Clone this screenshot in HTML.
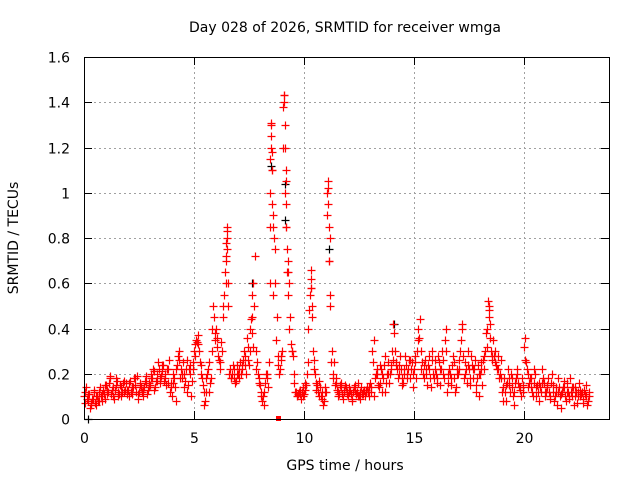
<!DOCTYPE html>
<html><head><meta charset="utf-8"><style>
body{margin:0;background:#fff;}
svg{display:block;font-family:"DejaVu Sans","Liberation Sans",sans-serif;}
</style></head><body>
<svg id="chart" width="640" height="480" xmlns="http://www.w3.org/2000/svg">
<text x="345" y="32" font-size="14" text-anchor="middle">Day 028 of 2026, SRMTID for receiver wmga</text>
<text x="18" y="238" font-size="14" text-anchor="middle" transform="rotate(-90 18 238)">SRMTID / TECUs</text>
<text x="345" y="470" font-size="14" text-anchor="middle">GPS time / hours</text>
<g id="grid"></g>
<g id="ticks"></g>
<g id="marks"></g>
<rect x="84.5" y="57.5" width="525" height="362" fill="none" stroke="#000" stroke-width="1"/>
</svg>
<script>
const yTicks=[0,0.2,0.4,0.6,0.8,1,1.2,1.4,1.6];
const yTickLabels=["0","0.2","0.4","0.6","0.8","1","1.2","1.4","1.6"];
const xTicks=[0,5,10,15,20];
const xTickLabels=["0","5","10","15","20"];
const seriesA=[.10,.14,.08,.06,.09,.07,.10,.12,.08,.11,
.15,.12,.18,.10,.13,.17,.11,.14,.12,.16,
.13,.17,.11,.15,.19,.12,.14,.10,.16,.13,
.15,.18,.21,.17,.22,.19,.24,.20,.16,.12,
.10,.18,.22,.30,.22,.25,.17,.12,.20,.17,
.30,.35,.33,.20,.15,.08,.20,.12,.30,.45,
.40,.28,.25,.45,.65,.83,.20,.18,.22,.17,
.20,.25,.22,.28,.36,.24,.44,.60,.30,.20,
.15,.08,.12,.18,.25,1.30,.90,.60,.28,.22,
.30,1.43,.85,.60,.33,.28,.12,.10,.11,.12,
.11,.15,.40,.66,.30,.20,.15,.10,.12,.08,
.12,1.05,.50,.20,.15,.13,.11,.16,.12,.14,
.10,.13,.09,.15,.12,.10,.14,.11,.13,.12,
.16,.30,.10,.20,.14,.22,.18,.12,.25,.20,
.30,.38,.24,.20,.22,.16,.28,.20,.18,.25,
.22,.18,.40,.30,.20,.26,.15,.22,.30,.18,
.20,.28,.15,.26,.35,.12,.22,.18,.25,.14,
.20,.30,.40,.25,.16,.22,.28,.18,.12,.24,
.20,.15,.28,.32,.48,.30,.35,.25,.28,.20,
.12,.18,.08,.15,.20,.10,.16,.22,.13,.18,
.32,.25,.14,.18,.10,.20,.15,.08,.22,.16,
.12,.18,.09,.15,.10,.06,.14,.11,.17,.08,
.12,.18,.10,.14,.07,.16,.11,.09,.15,.08];
const seriesB=[.07,.11,.05,.09,.12,.06,.08,.10,.13,.09,
.11,.19,.13,.09,.15,.12,.10,.16,.13,.11,
.10,.14,.18,.12,.09,.16,.13,.17,.11,.14,
.20,.13,.17,.25,.16,.21,.18,.22,.26,.14,
.16,.08,.28,.18,.20,.14,.26,.22,.10,.25,
.33,.37,.25,.18,.06,.12,.25,.18,.50,.35,
.32,.22,.30,.55,.78,.50,.18,.24,.16,.20,
.18,.24,.30,.20,.26,.40,.32,.72,.25,.18,
.10,.06,.20,.14,.85,1.18,.75,.45,.20,.28,
1.38,1.10,.70,.45,.30,.20,.10,.12,.09,.14,
.13,.25,.55,.50,.22,.13,.17,.10,.06,.14,
1.00,.80,.30,.25,.18,.10,.14,.09,.15,.11,
.12,.08,.14,.11,.16,.09,.12,.10,.14,.10,
.12,.35,.20,.15,.24,.12,.28,.20,.16,.22,
.42,.25,.18,.28,.15,.22,.18,.26,.22,.14,
.28,.35,.44,.25,.18,.22,.28,.14,.20,.26,
.16,.22,.30,.18,.40,.20,.15,.28,.12,.20,
.26,.42,.18,.22,.30,.15,.22,.26,.18,.10,
.25,.22,.38,.52,.42,.28,.30,.22,.18,.26,
.08,.15,.22,.12,.18,.06,.20,.14,.10,.15,
.36,.20,.18,.12,.22,.10,.16,.12,.18,.10,
.15,.10,.20,.08,.12,.18,.05,.14,.10,.16,
.09,.14,.06,.12,.10,.13,.07,.11,.06,.10];
const seriesC=[.12,.09,.11,.07,.13,.10,.08,.14,.11,.15,
.13,.16,.11,.14,.18,.10,.15,.12,.17,.13,
.16,.12,.14,.18,.11,.15,.12,.14,.19,.16,
.18,.22,.14,.20,.18,.24,.17,.15,.22,.16,
.20,.14,.24,.26,.18,.20,.22,.15,.24,.22,
.28,.34,.30,.24,.12,.18,.22,.16,.40,.38,
.36,.26,.34,.50,.72,.60,.22,.20,.18,.24,
.22,.20,.26,.24,.32,.30,.38,.50,.22,.16,
.12,.10,.16,.20,.60,1.10,.80,.35,.24,.26,
1.20,1.00,.65,.40,.30,.16,.12,.11,.13,.10,
.16,.20,.48,.58,.26,.16,.12,.14,.09,.12,
.90,.70,.25,.18,.16,.12,.15,.11,.13,.12,
.14,.11,.12,.13,.10,.12,.11,.13,.12,.14,
.14,.25,.18,.22,.16,.20,.24,.16,.20,.24,
.26,.30,.22,.24,.18,.20,.24,.22,.26,.20,
.25,.30,.36,.22,.24,.20,.24,.18,.26,.22,
.18,.25,.22,.20,.30,.16,.20,.24,.18,.22,
.22,.35,.28,.20,.24,.18,.24,.22,.15,.20,
.22,.26,.30,.40,.36,.26,.28,.24,.22,.18,
.14,.12,.16,.18,.14,.12,.18,.16,.14,.12,
.26,.22,.16,.14,.16,.14,.12,.14,.16,.12,
.14,.12,.16,.12,.14,.12,.10,.12,.14,.12,
.10,.12,.14,.10,.12,.10,.12,.13,.10,.12];
const spikeTimes=[6.45,6.47,6.48,6.5,6.52,7.62,7.65,8.45,8.47,8.48,8.5,8.52,8.53,8.55,8.57,8.6,9.08,9.1,9.12,9.14,9.16,9.18,9.2,9.22,9.25,9.28,10.3,10.32,10.35,11.07,11.1,11.12,11.15,11.18,18.4,18.42];
const spikeVals=[.60,.70,.80,.85,.75,.45,.55,1.0,1.15,1.25,1.31,1.20,1.10,0.95,0.85,0.55,1.43,1.40,1.30,1.20,1.05,0.95,0.85,0.75,0.65,0.55,.58,.62,.45,1.02,.95,.85,.70,.55,.50,.45];
const blackTimes=[9.12,9.14,7.62,14.1,8.52,11.12,0.2];
const blackVals=[1.04,0.88,0.60,0.42,1.12,0.75,0.0];

const NS="http://www.w3.org/2000/svg";
const X0=84,PXH=22,Y0=419,Y1=57,XR=609,YMAX=1.6;
function xs(t){return X0+t*PXH;}
function ys(v){return Y0-v/YMAX*(Y0-Y1);}
function el(tag,attrs,parent){const e=document.createElementNS(NS,tag);for(const k in attrs)e.setAttribute(k,attrs[k]);parent.appendChild(e);return e;}
const grid=document.getElementById('grid'),ticks=document.getElementById('ticks'),marks=document.getElementById('marks');
yTicks.forEach((v,i)=>{
  const y=Math.round(ys(v))+0.5;
  if(v>0&&v<YMAX){const g=el('line',{x1:X0,x2:XR,y1:y,y2:y,stroke:'#a0a0a0','stroke-dasharray':'2,3'},grid);
  
  }
  el('line',{x1:X0,x2:X0+8,y1:y,y2:y,stroke:'#000'},ticks);
  el('line',{x1:XR-8,x2:XR,y1:y,y2:y,stroke:'#000'},ticks);
  const t=el('text',{x:X0-14,y:y+5,'font-size':14,'text-anchor':'end'},ticks);
  t.textContent=yTickLabels[i];
  
  
});
xTicks.forEach((v,i)=>{
  const x=Math.round(xs(v))+0.5;
  if(v>0){const g=el('line',{x1:x,x2:x,y1:Y1,y2:Y0,stroke:'#a0a0a0','stroke-dasharray':'2,3'},grid);
  
  }
  el('line',{x1:x,x2:x,y1:Y0,y2:Y0-8,stroke:'#000'},ticks);
  el('line',{x1:x,x2:x,y1:Y1,y2:Y1+8,stroke:'#000'},ticks);
  const t=el('text',{x:x,y:Y0+24,'font-size':14,'text-anchor':'middle'},ticks);
  t.textContent=xTickLabels[i];
  
  
});
function plus(t,v,color,name){
  const x=Math.round(xs(t))+0.5,y=Math.round(ys(v))+0.5;
  const p=el('path',{d:`M${x-4} ${y}H${x+4}M${x} ${y-4}V${y+4}`,stroke:color,'stroke-width':1.2,fill:'none'},marks);
  
  
}
blackTimes.forEach((t,i)=>plus(t,blackVals[i],'#000000','black-point'));
seriesC.forEach((v,i)=>plus(i*0.1+0.033,v,'#ff0000','red-point'));
seriesB.forEach((v,i)=>plus(i*0.1+0.066,v,'#ff0000','red-point'));
seriesA.forEach((v,i)=>plus(i*0.1,v,'#ff0000','red-point'));
spikeTimes.forEach((t,i)=>plus(t,spikeVals[i],'#ff0000','red-point'));
const sq=el('rect',{x:Math.round(xs(8.8))-2,y:Y0-3,width:5,height:5,fill:'#ff0000'},marks);


</script>
</body></html>
